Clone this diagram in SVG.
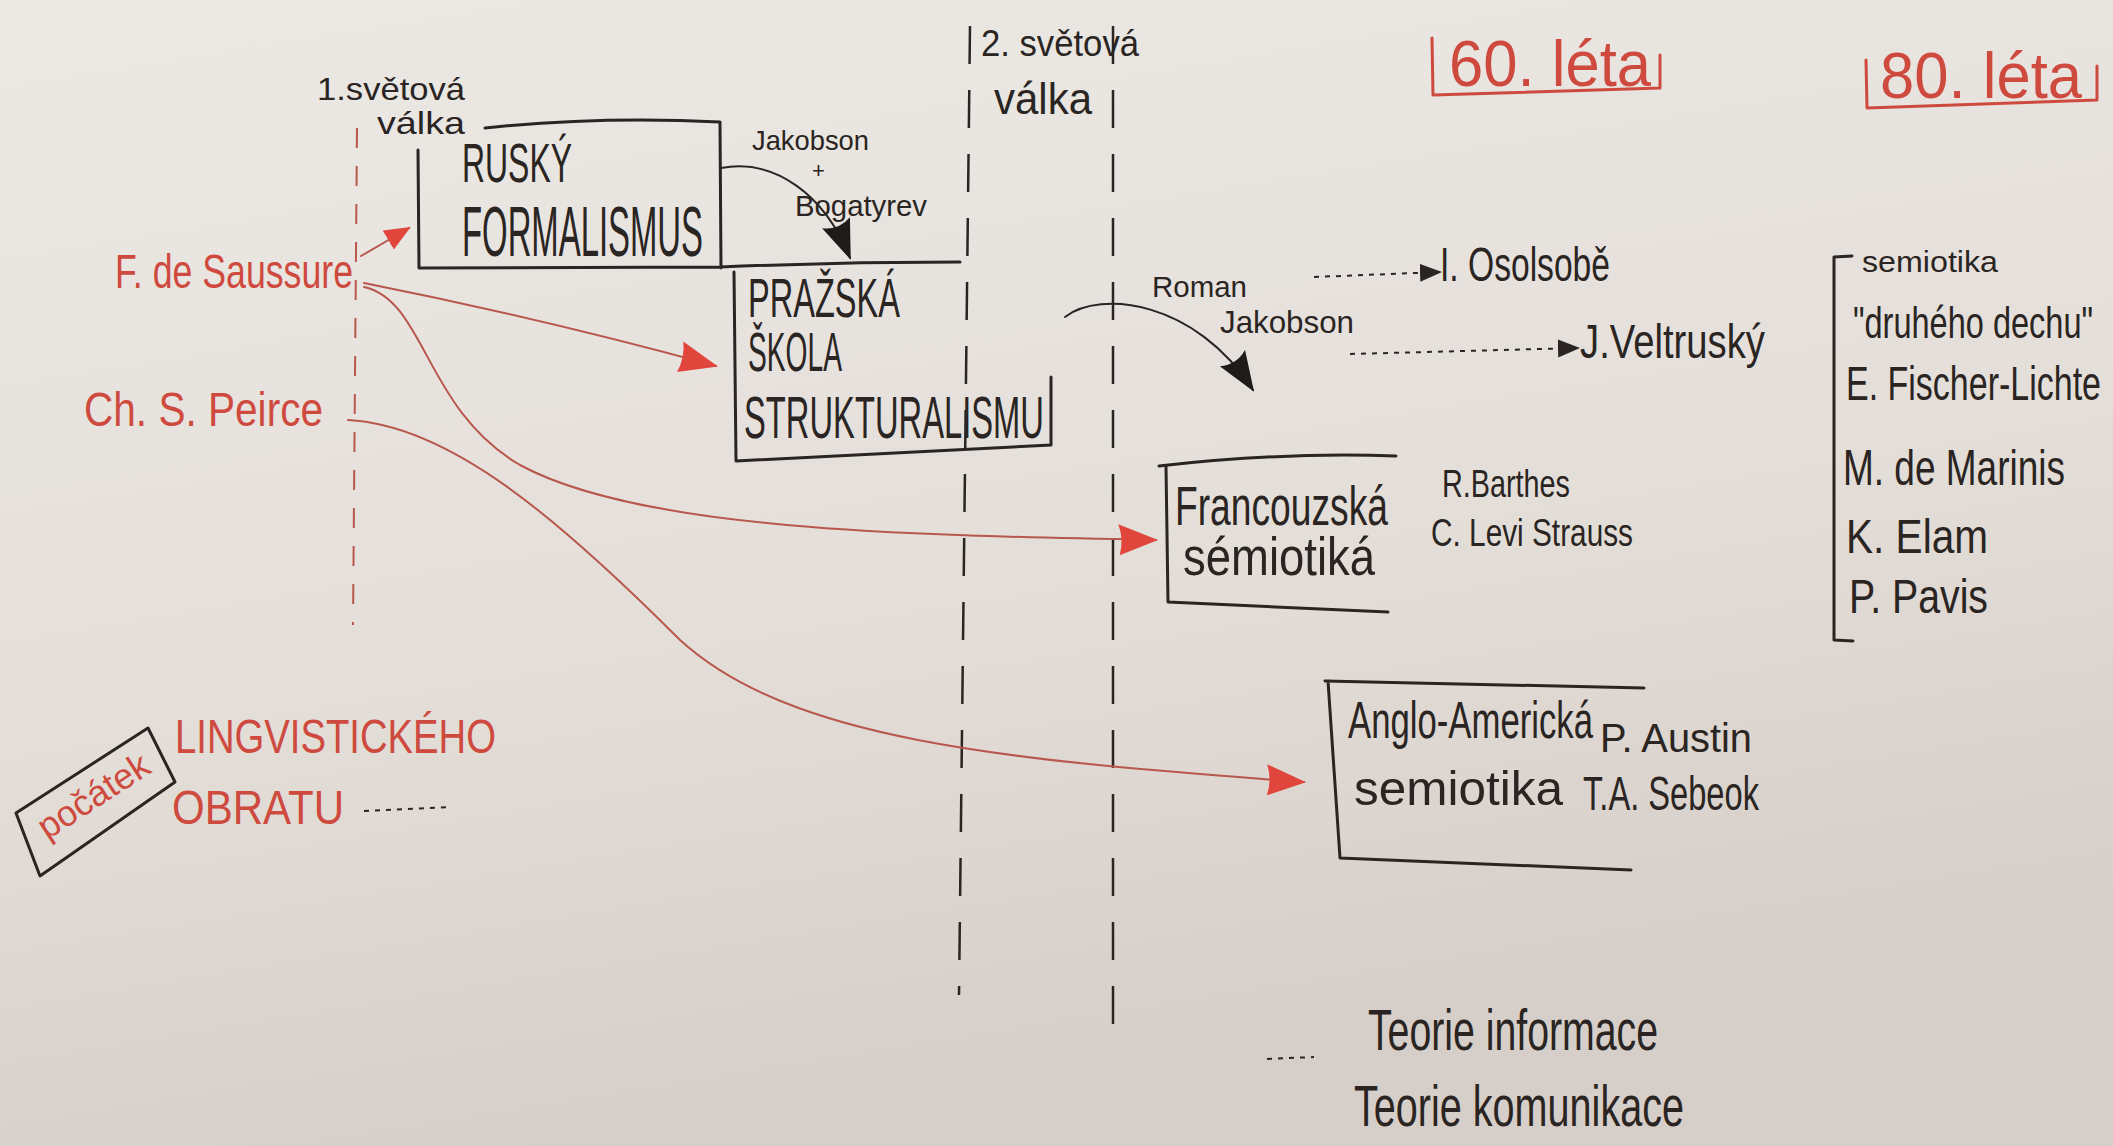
<svg xmlns="http://www.w3.org/2000/svg" width="2113" height="1146" viewBox="0 0 2113 1146">
<defs>
<linearGradient id="paper" x1="0" y1="0" x2="0.3" y2="1">
<stop offset="0" stop-color="#ece9e5"/>
<stop offset="0.6" stop-color="#e4ded9"/>
<stop offset="1" stop-color="#d6cec8"/>
</linearGradient>
<marker id="redHead" markerUnits="userSpaceOnUse" markerWidth="40" markerHeight="34" viewBox="0 0 40 34" refX="38" refY="17" orient="auto">
<path d="M0,2 L40,17 L2,33 Q6,17 0,2 z" fill="#e0463c"/>
</marker>
<marker id="redHeadS" markerUnits="userSpaceOnUse" markerWidth="26" markerHeight="24" viewBox="0 0 26 24" refX="24" refY="12" orient="auto">
<path d="M0,1 L26,12 L0,23 z" fill="#e0463c"/>
</marker>
<marker id="blackHead" markerUnits="userSpaceOnUse" markerWidth="40" markerHeight="34" viewBox="0 0 40 34" refX="38" refY="17" orient="auto">
<path d="M0,2 L40,17 L0,32 Q8,17 0,2 z" fill="#1f1b19"/>
</marker>
<marker id="smallHead" markerUnits="userSpaceOnUse" markerWidth="22" markerHeight="20" viewBox="0 0 22 20" refX="20" refY="10" orient="auto">
<path d="M0,1 L22,10 L0,19 z" fill="#2a2522"/>
</marker>
</defs>
<style>
.ink{font-family:"Liberation Sans","DejaVu Sans",sans-serif;fill:#2a2522;}
.red{font-family:"Liberation Sans","DejaVu Sans",sans-serif;fill:#cf4a3e;}
.line{fill:none;stroke:#2a2522;stroke-width:3;stroke-linecap:round;stroke-linejoin:round;}
.thin{fill:none;stroke:#2a2522;stroke-width:2;stroke-linecap:round;}
.rline{fill:none;stroke:#b8574c;stroke-width:2;stroke-linecap:round;}
.rbox{fill:none;stroke:#cf4a3e;stroke-width:3;stroke-linecap:round;stroke-linejoin:round;}
.dash{fill:none;stroke:#2a2522;stroke-width:2.5;stroke-dasharray:38 26;}
.rdash{fill:none;stroke:#b8574c;stroke-width:2;stroke-dasharray:20 18;}
.dot{fill:none;stroke:#2a2522;stroke-width:2;stroke-dasharray:5 6;}
</style>
<rect x="0" y="0" width="2113" height="1146" fill="url(#paper)"/>

<g id="timelines">
<path class="rdash" d="M357,128 L353,625"/>
<path class="dash" d="M970,26 L959,995"/>
<path class="dash" d="M1113,26 L1113,1044"/>
</g>

<g id="ww1">
<text class="ink" x="317" y="100" font-size="32" textLength="148" lengthAdjust="spacingAndGlyphs">1.světová</text>
<text class="ink" x="377" y="134" font-size="32" textLength="88" lengthAdjust="spacingAndGlyphs">válka</text>
</g>
<g id="ww2">
<text class="ink" x="981" y="56" font-size="36" textLength="158" lengthAdjust="spacingAndGlyphs">2. světová</text>
<text class="ink" x="994" y="114" font-size="44" textLength="98" lengthAdjust="spacingAndGlyphs">válka</text>
</g>

<g id="decade60">
<path class="rbox" d="M1432,38 L1433,95 L1660,88 M1660,55 L1660,88"/>
<text class="red" x="1449" y="86" font-size="64" textLength="202" lengthAdjust="spacingAndGlyphs">60. léta</text>
</g>
<g id="decade80">
<path class="rbox" d="M1866,60 L1867,108 L2097,100 M2097,66 L2097,100"/>
<text class="red" x="1880" y="98" font-size="64" textLength="202" lengthAdjust="spacingAndGlyphs">80. léta</text>
</g>

<g id="saussure">
<text class="red" x="115" y="288" font-size="48" textLength="238" lengthAdjust="spacingAndGlyphs">F. de Saussure</text>
</g>
<g id="peirce">
<text class="red" x="84" y="426" font-size="48" textLength="239" lengthAdjust="spacingAndGlyphs">Ch. S. Peirce</text>
</g>

<g id="rusky-formalismus">
<path class="line" d="M485,128 Q600,116 720,122 L721,268 M418,150 L419,268 L720,267 Q840,262 960,262"/>
<text class="ink" x="462" y="182" font-size="56" textLength="110" lengthAdjust="spacingAndGlyphs">RUSKÝ</text>
<text class="ink" x="462" y="256" font-size="70" textLength="241" lengthAdjust="spacingAndGlyphs">FORMALISMUS</text>
</g>

<g id="prazska-skola">
<path class="line" d="M734,272 L736,461 L1051,445 M1051,377 L1051,445"/>
<text class="ink" x="748" y="317" font-size="56" textLength="152" lengthAdjust="spacingAndGlyphs">PRAŽSKÁ</text>
<text class="ink" x="748" y="371" font-size="56" textLength="94" lengthAdjust="spacingAndGlyphs">ŠKOLA</text>
<text class="ink" x="744" y="438" font-size="60" textLength="300" lengthAdjust="spacingAndGlyphs">STRUKTURALISMU</text>
</g>

<g id="jakobson-bogatyrev">
<text class="ink" x="752" y="150" font-size="28" textLength="117" lengthAdjust="spacingAndGlyphs">Jakobson</text>
<text class="ink" x="812" y="178" font-size="22">+</text>
<text class="ink" x="795" y="216" font-size="30" textLength="132" lengthAdjust="spacingAndGlyphs">Bogatyrev</text>
</g>

<g id="roman-jakobson">
<text class="ink" x="1152" y="297" font-size="30" textLength="95" lengthAdjust="spacingAndGlyphs">Roman</text>
<text class="ink" x="1220" y="333" font-size="32" textLength="134" lengthAdjust="spacingAndGlyphs">Jakobson</text>
</g>

<g id="osolsobe">
<text class="ink" x="1440" y="281" font-size="48" textLength="170" lengthAdjust="spacingAndGlyphs">I. Osolsobě</text>
</g>
<g id="veltrusky">
<text class="ink" x="1580" y="358" font-size="48" textLength="185" lengthAdjust="spacingAndGlyphs">J.Veltruský</text>
</g>

<g id="francouzska-semiotika">
<path class="line" d="M1159,466 Q1280,452 1396,456 M1166,466 L1168,602 L1388,612"/>
<text class="ink" x="1175" y="525" font-size="56" textLength="213" lengthAdjust="spacingAndGlyphs">Francouzská</text>
<text class="ink" x="1183" y="575" font-size="54" textLength="192" lengthAdjust="spacingAndGlyphs">sémiotiká</text>
</g>
<g id="barthes-strauss">
<text class="ink" x="1442" y="497" font-size="38" textLength="128" lengthAdjust="spacingAndGlyphs">R.Barthes</text>
<text class="ink" x="1431" y="546" font-size="38" textLength="202" lengthAdjust="spacingAndGlyphs">C. Levi Strauss</text>
</g>

<g id="semiotika-druheho-dechu">
<path class="line" d="M1852,256 L1834,257 L1834,640 L1853,641"/>
<text class="ink" x="1862" y="272" font-size="30" textLength="136" lengthAdjust="spacingAndGlyphs">semiotika</text>
<text class="ink" x="1853" y="338" font-size="44" textLength="240" lengthAdjust="spacingAndGlyphs">"druhého dechu"</text>
<text class="ink" x="1846" y="400" font-size="48" textLength="255" lengthAdjust="spacingAndGlyphs">E. Fischer-Lichte</text>
<text class="ink" x="1843" y="485" font-size="50" textLength="222" lengthAdjust="spacingAndGlyphs">M. de Marinis</text>
<text class="ink" x="1846" y="553" font-size="48" textLength="142" lengthAdjust="spacingAndGlyphs">K. Elam</text>
<text class="ink" x="1849" y="613" font-size="48" textLength="139" lengthAdjust="spacingAndGlyphs">P. Pavis</text>
</g>

<g id="angloamericka-semiotika">
<path class="line" d="M1325,681 L1644,688 M1328,681 L1340,858 L1631,870"/>
<text class="ink" x="1348" y="738" font-size="52" textLength="245" lengthAdjust="spacingAndGlyphs">Anglo-Americká</text>
<text class="ink" x="1354" y="805" font-size="48" textLength="209" lengthAdjust="spacingAndGlyphs">semiotika</text>
<text class="ink" x="1600" y="752" font-size="40" textLength="152" lengthAdjust="spacingAndGlyphs">P. Austin</text>
<text class="ink" x="1583" y="810" font-size="48" textLength="176" lengthAdjust="spacingAndGlyphs">T.A. Sebeok</text>
</g>

<g id="teorie">
<text class="ink" x="1368" y="1050" font-size="58" textLength="290" lengthAdjust="spacingAndGlyphs">Teorie informace</text>
<path class="dot" d="M1267,1059 L1314,1057"/>
<text class="ink" x="1354" y="1126" font-size="58" textLength="330" lengthAdjust="spacingAndGlyphs">Teorie komunikace</text>
</g>

<g id="linguistic-turn">
<path class="line" d="M16,813 L148,728 L175,782 L40,876 Z"/>
<text class="red" transform="translate(100,806) rotate(-33)" x="0" y="0" text-anchor="middle" font-size="36" textLength="126" lengthAdjust="spacingAndGlyphs">počátek</text>
<text class="red" x="175" y="753" font-size="48" textLength="321" lengthAdjust="spacingAndGlyphs">LINGVISTICKÉHO</text>
<text class="red" x="172" y="824" font-size="48" textLength="172" lengthAdjust="spacingAndGlyphs">OBRATU</text>
<path class="dot" d="M364,811 L451,807"/>
</g>

<g id="connectors">
<path class="rline" d="M361,256 L409,228" marker-end="url(#redHeadS)"/>
<path class="rline" d="M364,283 Q540,318 716,366" marker-end="url(#redHead)"/>
<path class="rline" d="M364,287 C425,300 425,410 520,465 C640,530 900,535 1156,540" marker-end="url(#redHead)"/>
<path class="rline" d="M348,420 C450,425 560,520 680,640 C790,740 1000,760 1304,782" marker-end="url(#redHead)"/>
<path class="thin" d="M721,168 C775,158 825,195 850,258" marker-end="url(#blackHead)"/>
<path class="thin" d="M1065,317 C1100,290 1195,300 1253,390" marker-end="url(#blackHead)"/>
<path class="dot" d="M1314,277 L1440,272" marker-end="url(#smallHead)"/>
<path class="dot" d="M1350,354 L1578,348" marker-end="url(#smallHead)"/>
</g>
</svg>
